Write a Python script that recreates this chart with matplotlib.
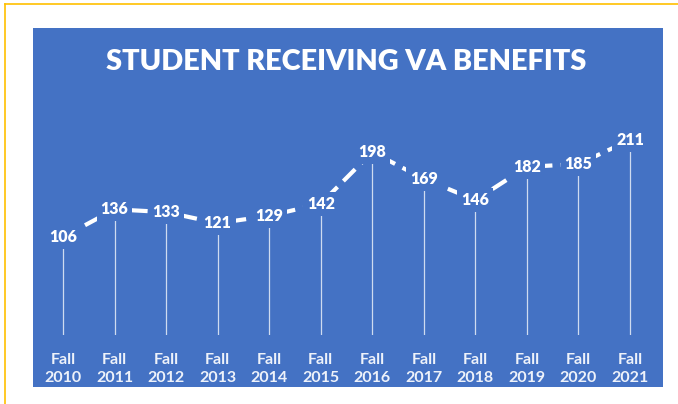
import matplotlib
matplotlib.use("Agg")
import matplotlib.pyplot as plt
from matplotlib.patches import Rectangle
from matplotlib.lines import Line2D

years = ["2010", "2011", "2012", "2013", "2014", "2015", "2016", "2017", "2018", "2019", "2020", "2021"]
tick_labels = ["Fall\n" + y for y in years]
values = [106, 136, 133, 121, 129, 142, 198, 169, 146, 182, 185, 211]
title = "STUDENT RECEIVING VA BENEFITS"

BLUE = "#4472C4"
W, H = 678, 404
fig = plt.figure(figsize=(W / 100, H / 100), dpi=100)
fig.patch.set_facecolor("white")

# yellow frame (left and top visible)
fig.add_artist(Line2D([5 / W, 5 / W], [0, 1 - 4 / H], color="#FFC000", lw=1.2, transform=fig.transFigure))
fig.add_artist(Line2D([5 / W, 1], [1 - 4 / H, 1 - 4 / H], color="#FFC000", lw=1.2, transform=fig.transFigure))

# blue panel
fig.add_artist(Rectangle((33 / W, 1 - 387 / H), (663 - 33) / W, (387 - 28) / H,
                         facecolor=BLUE, edgecolor="none", transform=fig.transFigure, zorder=0))

fig.text(346 / W, 1 - 62 / H, title, color="white", fontsize=20.8, fontweight="heavy",
         family="Lato", ha="center", va="center")

ax = fig.add_axes([37.2 / W, (H - 335) / H, (655.8 - 37.2) / W, (335 - 104) / H])
ax.set_facecolor("none")
x = list(range(len(values)))
ax.set_xlim(-0.5, len(values) - 0.5)
ax.set_ylim(0, 250)

ax.vlines(x, 0, values, color="white", lw=0.9, alpha=0.75, zorder=1)
ax.plot(x, values, color="white", lw=3, linestyle=(0, (4, 2)), zorder=2,
        dash_capstyle="butt")
for xi, v in zip(x, values):
    ax.text(xi, v, str(v), color="white", fontsize=11.5, fontweight="heavy", family="Lato",
            ha="center", va="center", zorder=3,
            bbox=dict(boxstyle="square,pad=0.25", facecolor=BLUE, edgecolor="none"))

ax.set_xticks(x)
ax.set_xticklabels(tick_labels, color="#EEF2FA", fontsize=11.5, fontweight="bold", family="Lato",
                   linespacing=1.35)
ax.tick_params(axis="x", length=0, pad=13)
ax.set_yticks([])
for s in ax.spines.values():
    s.set_visible(False)

fig.savefig("out.png", dpi=100, facecolor="white")
